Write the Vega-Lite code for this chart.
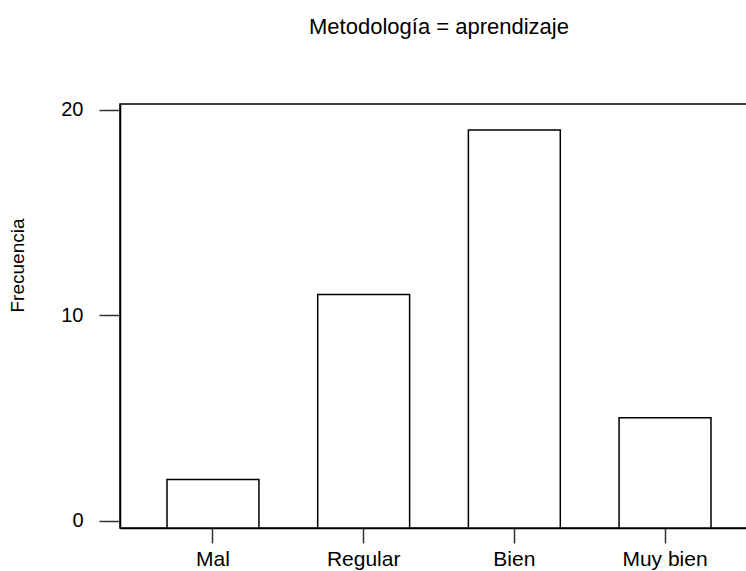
{
  "$schema": "https://vega.github.io/schema/vega-lite/v6.json",
  "autosize": {"type": "none"},
  "padding": {"left": 120, "top": 104, "right": 0, "bottom": 43},
  "width": 638,
  "height": 424,
  "background": "white",
  "title": {
    "text": "Metodología = aprendizaje",
    "font": "Liberation Sans",
    "fontSize": 22,
    "fontWeight": "normal",
    "color": "black",
    "anchor": "middle",
    "frame": "group",
    "baseline": "alphabetic",
    "offset": 44
  },
  "config": {
    "view": {"stroke": "black", "strokeWidth": 1.5},
    "axis": {
      "grid": false,
      "domainColor": "black",
      "domainWidth": 1.5,
      "tickColor": "#333333",
      "tickWidth": 1.5,
      "labelFont": "Liberation Sans",
      "labelColor": "black",
      "titleFont": "Liberation Sans",
      "titleColor": "black",
      "titleFontWeight": "normal"
    }
  },
  "data": {
    "values": [
      {"categoria": "Mal", "frecuencia": 2},
      {"categoria": "Regular", "frecuencia": 11},
      {"categoria": "Bien", "frecuencia": 19},
      {"categoria": "Muy bien", "frecuencia": 5}
    ]
  },
  "mark": {"type": "bar", "fill": "white", "stroke": "black", "strokeWidth": 1.5},
  "encoding": {
    "x": {
      "field": "categoria",
      "type": "nominal",
      "sort": ["Mal", "Regular", "Bien", "Muy bien"],
      "scale": {"paddingInner": 0.39, "paddingOuter": 0.312},
      "axis": {
        "title": null,
        "labelAngle": 0,
        "labelFontSize": 21,
        "tickSize": 15,
        "labelPadding": 5,
        "labelBaseline": "top"
      }
    },
    "y": {
      "field": "frecuencia",
      "type": "quantitative",
      "scale": {"domain": [-0.365, 20.27], "nice": false, "zero": false},
      "axis": {
        "title": "Frecuencia",
        "titleFontSize": 19,
        "titleAngle": -90,
        "titleBaseline": "alphabetic",
        "titleAlign": "center",
        "titleX": -97,
        "titleY": 161,
        "values": [0, 10, 20],
        "labelFontSize": 20,
        "tickSize": 21,
        "labelPadding": 16
      }
    },
    "y2": {"datum": -0.365}
  }
}
